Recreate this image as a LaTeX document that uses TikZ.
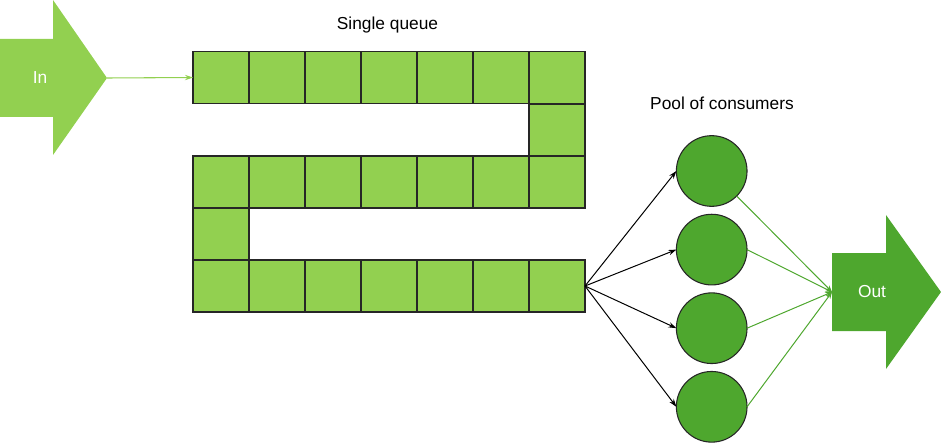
\documentclass[tikz,border=0pt]{standalone}
\usepackage{fontspec}
\setmainfont{Liberation Sans}
\usetikzlibrary{arrows.meta}
\definecolor{lightgreen}{HTML}{92D050}
\definecolor{darkgreen}{HTML}{4EA72E}
\tikzset{
  cell/.style={draw=black!85,line width=1pt,fill=lightgreen,minimum width=42pt,minimum height=39pt,inner sep=0pt,outer sep=0pt},
  consumer/.style={circle,draw=black!85,line width=0.8pt,fill=darkgreen,minimum size=53pt,inner sep=0pt,outer sep=0pt},
  caption/.style={font=\fontsize{13}{15}\selectfont}
}
\begin{document}
\begin{tikzpicture}[x=0.75pt,y=-0.75pt]
  \useasboundingbox (0,0) rectangle (941,445);
  % in arrow
  \fill[lightgreen] (0,39) -- (53,39) -- (53,0) -- (107,78) -- (53,155) -- (53,117) -- (0,117) -- cycle;
  \coordinate (intip) at (107,78);
  \node[caption,text=white] (inlabel) at (40,78) {In};
  % queue
  \foreach \i in {1,...,7} {
    \node[cell] (a\i) at ({165+56*\i},77.5) {};
    \node[cell] (b\i) at ({165+56*\i},182) {};
    \node[cell] (c\i) at ({165+56*\i},286) {};
  }
  \node[cell] (ab) at (557,130) {};
  \node[cell] (bc) at (221,234) {};
  \node[caption,anchor=base] (queuelabel) at (387.5,29.3) {Single queue};
  \draw[lightgreen,line width=0.8pt,-{Stealth[length=6pt,width=4pt]}] (intip) -- (a1.west);
  % consumers
  \node[caption,anchor=base] (poollabel) at (722,110) {Pool of consumers};
  \foreach \j in {1,...,4} {
    \node[consumer] (p\j) at (711.7,{171+78.6*(\j-1)}) {};
    \draw[line width=0.75pt,-{Stealth[length=6pt,width=4pt]}] (c7.east) -- (p\j.west);
  }
  % out arrow
  \fill[darkgreen] (832,253) -- (886,253) -- (886,215) -- (941,292) -- (886,369) -- (886,331) -- (832,331) -- cycle;
  \coordinate (outtail) at (832,292);
  \node[caption,text=white] (outlabel) at (872,292) {Out};
  \draw[darkgreen,line width=0.75pt,-{Stealth[length=5pt,width=4pt]}] (p1.south east) -- (outtail);
  \foreach \j in {2,3,4}
    \draw[darkgreen,line width=0.75pt,-{Stealth[length=5pt,width=4pt]}] (p\j.east) -- (outtail);
\end{tikzpicture}
\end{document}
